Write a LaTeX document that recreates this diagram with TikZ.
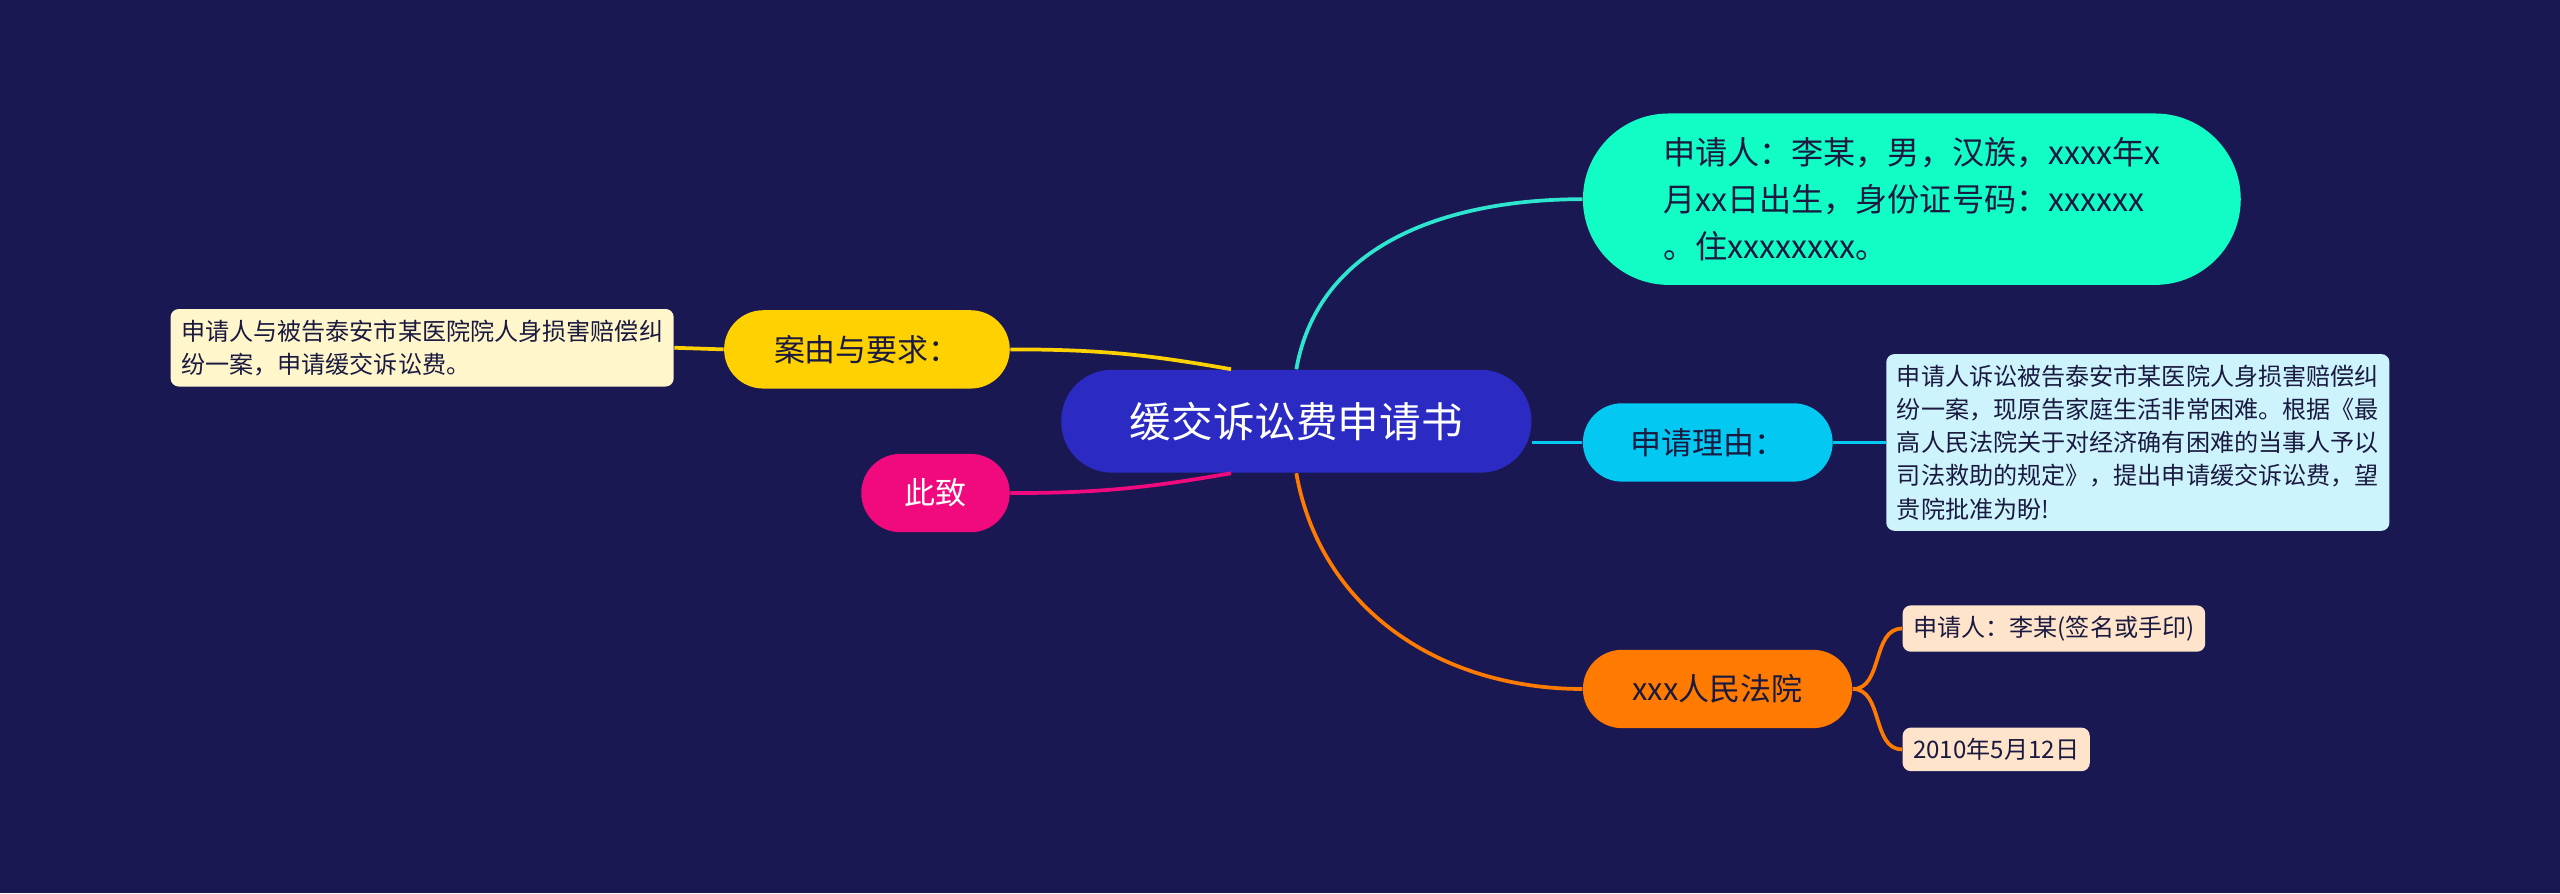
\documentclass[tikz,border=0pt]{standalone}
\usepackage{fontspec}
\setmainfont{Noto Sans CJK SC}
\usetikzlibrary{positioning}
\definecolor{bgnavy}{HTML}{191852}
\definecolor{rootblue}{HTML}{2B2BC4}
\definecolor{tealc}{HTML}{12FCC6}
\definecolor{tealline}{HTML}{2EE6CF}
\definecolor{cyanc}{HTML}{03C9F2}
\definecolor{cyanbox}{HTML}{CDF4FC}
\definecolor{orangec}{HTML}{FF7A00}
\definecolor{orangebox}{HTML}{FFE4CC}
\definecolor{yellowc}{HTML}{FFD100}
\definecolor{yellowbox}{HTML}{FFF6CC}
\definecolor{pinkc}{HTML}{F00A7E}
\definecolor{darktext}{HTML}{1A1A40}

\tikzset{
  topic/.style={rounded corners=0.48cm, minimum height=0.96cm, inner sep=0pt,
    font=\fontsize{10.8}{13}\selectfont, text=darktext},
  leaf/.style={rounded corners=0.1cm, inner sep=0.13cm, align=left,
    font=\fontsize{8.4}{11.6}\selectfont, text=darktext},
  link/.style={line width=1.3pt}
}

\begin{document}
\begin{tikzpicture}[x=0.02cm, y=-0.02cm]
\fill[bgnavy] (0,0) rectangle (1568,547);
\useasboundingbox (0,0) rectangle (1568,547);

% root
\node[rounded corners=0.62cm, fill=rootblue, minimum width=5.76cm, minimum height=1.26cm,
  text=white, font=\fontsize{14.5}{17}\selectfont] (ctr) at (794,258) {缓交诉讼费申请书};

% right side
\node[rounded corners=1.05cm, fill=tealc, minimum width=8.06cm, minimum height=2.1cm,
  align=left, text=darktext, font=\fontsize{11.2}{16.5}\selectfont] (who) at (1171,122)
  {申请人：李某，男，汉族，xxxx年x\\月xx日出生，身份证号码：xxxxxx\\。住xxxxxxxx。};
\node[topic, fill=cyanc, minimum width=3.06cm] (why) at (1046,271) {申请理由：};
\node[leaf, fill=cyanbox, anchor=west] (whytext) at (1155,271)
  {申请人诉讼被告泰安市某医院人身损害赔偿纠\\纷一案，现原告家庭生活非常困难。根据《最\\高人民法院关于对经济确有困难的当事人予以\\司法救助的规定》，提出申请缓交诉讼费，望\\贵院批准为盼!};
\node[topic, fill=orangec, minimum width=3.3cm] (court) at (1052,422) {xxx人民法院};
\node[leaf, fill=orangebox, anchor=west] (sign) at (1165,385) {申请人：李某(签名或手印)};
\node[leaf, fill=orangebox, anchor=west] (date) at (1165,459) {2010年5月12日};

% left side
\node[topic, fill=yellowc, minimum width=3.5cm] (cause) at (531,214) {案由与要求：};
\node[leaf, fill=yellowbox, anchor=east] (causetext) at (413,213)
  {申请人与被告泰安市某医院院人身损害赔偿纠\\纷一案，申请缓交诉讼费。};
\node[topic, fill=pinkc, text=white, minimum width=1.82cm] (close) at (573,302) {此致};

% connectors
\draw[link, tealline] (ctr.north) to[out=80, in=180] (who.west);
\draw[link, cyanc] (ctr.east |- why.west) -- (why.west);
\draw[link, cyanc] (why.east) -- (whytext.west);
\draw[link, orangec] (ctr.south) to[out=-80, in=180] (court.west);
\draw[link, orangec] (court.east) to[out=0, in=180] (sign.west);
\draw[link, orangec] (court.east) to[out=0, in=180] (date.west);
\draw[link, yellowc] ([xshift=-0.8cm]ctr.north) to[out=170, in=0] (cause.east);
\draw[link, yellowc] (cause.west) -- (causetext.east);
\draw[link, pinkc] ([xshift=-0.8cm]ctr.south) to[out=190, in=0] (close.east);
\end{tikzpicture}
\end{document}
